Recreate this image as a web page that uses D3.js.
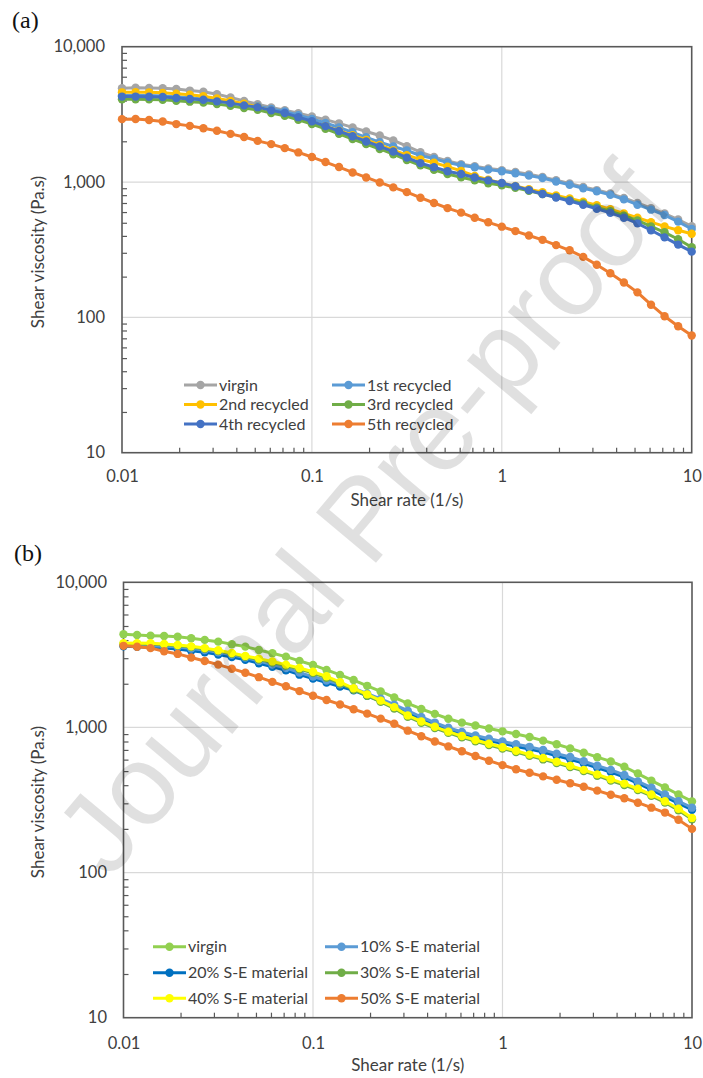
<!DOCTYPE html>
<html>
<head>
<meta charset="utf-8">
<script src="https://cdn.jsdelivr.net/npm/d3@7"></script>
<style>
  body { margin: 0; background: #fff; }
  svg { display: block; }
</style>
</head>
<body>
<svg id="fig" width="703" height="1078"></svg>
<script>
// Shear rate grid (1/s), shared by every curve in both panels
const shearRate = [
  0.01, 0.01179, 0.01389, 0.01638, 0.01931, 0.02276, 0.02683, 0.03162, 0.03728, 0.04394,
  0.05179, 0.06105, 0.07197, 0.08483, 0.1, 0.1179, 0.1389, 0.1638, 0.1931, 0.2276,
  0.2683, 0.3162, 0.3728, 0.4394, 0.5179, 0.6105, 0.7197, 0.8483, 1, 1.179,
  1.389, 1.638, 1.931, 2.276, 2.683, 3.162, 3.728, 4.394, 5.179, 6.105,
  7.197, 8.483, 10
];

// Axis ticks
const xTickValues = [0.01, 0.1, 1, 10];
const yTickValues = [10, 100, 1000, 10000];

// Panel (a): recycling passes, shear viscosity (Pa.s)
const namesA = ["virgin", "1st recycled", "2nd recycled", "3rd recycled", "4th recycled", "5th recycled"];
const viscVirginA = [4935, 4975, 4960, 4935, 4875, 4740, 4650, 4460, 4210, 3980, 3760, 3560, 3390, 3220, 3050, 2890, 2715, 2535, 2365, 2205, 2030, 1840, 1660, 1530, 1430, 1355, 1310, 1260, 1225, 1185, 1140, 1090, 1030, 975, 920, 872, 822, 762, 700, 642, 585, 528, 471];
const viscRec1A = [4350, 4360, 4350, 4320, 4260, 4190, 4120, 4020, 3900, 3760, 3630, 3470, 3320, 3120, 2930, 2730, 2530, 2330, 2140, 1970, 1830, 1710, 1570, 1490, 1395, 1330, 1285, 1235, 1200, 1160, 1115, 1070, 1010, 955, 900, 855, 805, 745, 680, 625, 570, 510, 450];
const viscRec2A = [4600, 4610, 4600, 4560, 4500, 4420, 4300, 4150, 3980, 3790, 3580, 3370, 3170, 2970, 2780, 2590, 2400, 2220, 2050, 1880, 1720, 1580, 1470, 1390, 1300, 1210, 1110, 1040, 980, 935, 885, 840, 795, 755, 715, 675, 630, 585, 545, 505, 470, 440, 415];
const viscRec3A = [4090, 4090, 4080, 4055, 3990, 3925, 3870, 3770, 3660, 3520, 3415, 3235, 3090, 2880, 2685, 2475, 2275, 2080, 1905, 1755, 1605, 1455, 1330, 1230, 1145, 1085, 1030, 980, 945, 905, 860, 815, 775, 735, 695, 650, 610, 565, 520, 470, 425, 378, 330];
const viscRec4A = [4280, 4280, 4270, 4245, 4180, 4110, 4050, 3945, 3830, 3685, 3575, 3385, 3235, 3015, 2810, 2590, 2380, 2180, 1995, 1835, 1680, 1515, 1380, 1288, 1201, 1146, 1081, 1029, 983, 930, 872, 815, 768, 724, 680, 635, 592, 545, 495, 440, 390, 345, 306];
const viscRec5A = [2915, 2920, 2870, 2800, 2680, 2600, 2500, 2390, 2270, 2150, 2015, 1905, 1780, 1655, 1530, 1405, 1290, 1177, 1081, 993, 913, 842, 766, 700, 642, 594, 544, 504, 468, 434, 403, 374, 342, 313, 280, 245, 212, 181, 153, 124, 102, 86, 73.5];

// Panel (b): blends with S-E material, shear viscosity (Pa.s)
const namesB = ["virgin", "10% S-E material", "20% S-E material", "30% S-E material", "40% S-E material", "50% S-E material"];
const viscVirginB = [4390, 4330, 4290, 4270, 4220, 4120, 4010, 3900, 3745, 3605, 3420, 3245, 3075, 2875, 2695, 2490, 2300, 2120, 1935, 1770, 1610, 1465, 1340, 1240, 1148, 1079, 1032, 984, 940, 902, 859, 811, 766, 717, 670, 624, 583, 536, 481, 430, 386, 345, 309];
const visc10B = [3690, 3660, 3650, 3630, 3590, 3500, 3410, 3300, 3165, 3030, 2870, 2710, 2570, 2385, 2240, 2105, 1980, 1865, 1710, 1575, 1435, 1305, 1180, 1080, 995, 930, 880, 835, 800, 765, 735, 700, 660, 625, 585, 545, 510, 470, 425, 385, 345, 310, 280];
const visc20B = [3620, 3590, 3560, 3520, 3470, 3380, 3290, 3180, 3050, 2920, 2770, 2620, 2480, 2310, 2170, 2035, 1910, 1800, 1650, 1520, 1385, 1265, 1140, 1045, 962, 900, 850, 808, 778, 740, 710, 676, 638, 604, 566, 527, 493, 455, 412, 372, 334, 300, 271];
const visc30B = [3760, 3770, 3760, 3720, 3660, 3580, 3480, 3360, 3220, 3070, 2940, 2800, 2660, 2520, 2370, 2200, 2010, 1820, 1655, 1500, 1350, 1185, 1078, 990, 917, 855, 803, 757, 715, 676, 637, 602, 568, 534, 500, 465, 431, 401, 370, 338, 304, 269, 233];
const visc40B = [3800, 3810, 3800, 3760, 3700, 3620, 3520, 3400, 3260, 3110, 2980, 2850, 2710, 2570, 2420, 2250, 2050, 1860, 1690, 1530, 1380, 1210, 1100, 1010, 935, 872, 820, 772, 730, 690, 650, 615, 580, 545, 510, 475, 440, 410, 378, 345, 310, 275, 238];
const visc50B = [3650, 3600, 3520, 3350, 3210, 3030, 2870, 2710, 2540, 2380, 2220, 2060, 1920, 1780, 1655, 1545, 1440, 1335, 1245, 1150, 1060, 950, 870, 800, 740, 685, 635, 590, 550, 515, 487, 460, 436, 412, 390, 367, 344, 325, 303, 280, 259, 231, 200];

// Series colours
const coloursA = ["#a5a5a5", "#5b9bd5", "#ffc000", "#70ad47", "#4472c4", "#ed7d31"];
const coloursB = ["#92d050", "#5b9bd5", "#0070c0", "#70ad47", "#ffff00", "#ed7d31"];

const FONT = "Lato, 'Open Sans', sans-serif";
const TEXT_COLOUR = "#404040";
const svg = d3.select("#fig");

function drawPanel(cfg) {
  const x = d3.scaleLog().domain([0.01, 10]).range([cfg.left, cfg.right]);
  const y = d3.scaleLog().domain([10, 10000]).range([cfg.bottom, cfg.top]);
  const g = svg.append("g");

  // major gridlines
  g.append("g").selectAll("line").data([0.1, 1]).join("line")
    .attr("x1", d => x(d)).attr("x2", d => x(d))
    .attr("y1", cfg.top).attr("y2", cfg.bottom)
    .attr("stroke", "#d9d9d9").attr("stroke-width", 1.2);
  g.append("g").selectAll("line").data([100, 1000]).join("line")
    .attr("x1", cfg.left).attr("x2", cfg.right)
    .attr("y1", d => y(d)).attr("y2", d => y(d))
    .attr("stroke", "#d9d9d9").attr("stroke-width", 1.2);

  // minor ticks pointing into the plot
  const minorX = [], minorY = [];
  [0.01, 0.1, 1].forEach(b => { for (let m = 2; m <= 9; m++) minorX.push(+(b * m).toPrecision(3)); });
  [10, 100, 1000].forEach(b => { for (let m = 2; m <= 9; m++) minorY.push(b * m); });

  const axX = g.append("g").attr("transform", `translate(0,${cfg.bottom})`)
    .call(d3.axisBottom(x).tickValues(minorX).tickSize(-5).tickFormat(""));
  axX.select(".domain").remove();
  axX.selectAll(".tick line").attr("stroke", "#595959").attr("stroke-width", 1.2);

  const axY = g.append("g").attr("transform", `translate(${cfg.left},0)`)
    .call(d3.axisLeft(y).tickValues(minorY).tickSize(-5).tickFormat(""));
  axY.select(".domain").remove();
  axY.selectAll(".tick line").attr("stroke", "#595959").attr("stroke-width", 1.2);

  // major tick labels
  const labX = g.append("g").attr("transform", `translate(0,${cfg.bottom})`)
    .call(d3.axisBottom(x).tickValues(xTickValues).tickSize(0).tickPadding(cfg.xPad).tickFormat(d3.format("~g")));
  labX.select(".domain").remove();
  labX.selectAll("text").attr("font-family", FONT).attr("font-size", 16.5).attr("fill", TEXT_COLOUR);

  const labY = g.append("g").attr("transform", `translate(${cfg.left},0)`)
    .call(d3.axisLeft(y).tickValues(yTickValues).tickSize(0).tickPadding(cfg.yPad).tickFormat(d3.format(",")));
  labY.select(".domain").remove();
  labY.selectAll("text").attr("font-family", FONT).attr("font-size", 16.5).attr("fill", TEXT_COLOUR);

  // plot frame
  g.append("rect")
    .attr("x", cfg.left).attr("y", cfg.top)
    .attr("width", cfg.right - cfg.left).attr("height", cfg.bottom - cfg.top)
    .attr("fill", "none").attr("stroke", "#595959").attr("stroke-width", 1.6);

  // curves: line then markers, series by series in the given stacking order
  const line = d3.line().x(d => x(d[0])).y(d => y(d[1]));
  cfg.order.forEach(i => {
    const vals = cfg.series[i];
    const pts = shearRate.map((r, k) => [r, vals[k]]);
    const sg = g.append("g");
    sg.append("path").datum(pts)
      .attr("d", line).attr("fill", "none")
      .attr("stroke", cfg.colours[i]).attr("stroke-width", 3).attr("stroke-linejoin", "round");
    sg.selectAll("circle").data(pts).join("circle")
      .attr("cx", d => x(d[0])).attr("cy", d => y(d[1])).attr("r", 4.2)
      .attr("fill", cfg.colours[i]);
  });

  // axis titles
  g.append("text")
    .attr("x", (cfg.left + cfg.right) / 2).attr("y", cfg.xTitleY)
    .attr("text-anchor", "middle").attr("font-family", FONT).attr("font-size", 17)
    .attr("fill", TEXT_COLOUR).text("Shear rate (1/s)");
  g.append("text")
    .attr("transform", `translate(${cfg.yTitleX},${cfg.yTitleY}) rotate(-90)`)
    .attr("text-anchor", "middle").attr("font-family", FONT).attr("font-size", 17)
    .attr("fill", TEXT_COLOUR).text("Shear viscosity (Pa.s)");

  // panel letter
  g.append("text")
    .attr("x", cfg.letterX).attr("y", cfg.letterY)
    .attr("font-family", "'Liberation Serif', 'Times New Roman', serif").attr("font-size", 24)
    .attr("fill", "#111").text(cfg.letter);

  // legend, two columns filled row by row
  const lg = cfg.legend;
  cfg.names.forEach((name, i) => {
    const col = i % 2, row = Math.floor(i / 2);
    const x0 = lg.colX[col], cy = lg.rowY[row];
    const item = g.append("g");
    item.append("line")
      .attr("x1", x0).attr("x2", x0 + lg.lineLen).attr("y1", cy).attr("y2", cy)
      .attr("stroke", cfg.colours[i]).attr("stroke-width", 3);
    item.append("circle")
      .attr("cx", x0 + lg.lineLen / 2).attr("cy", cy).attr("r", 4.2)
      .attr("fill", cfg.colours[i]);
    item.append("text")
      .attr("x", x0 + lg.lineLen + 2).attr("y", cy).attr("dy", "0.35em")
      .attr("font-family", FONT).attr("font-size", 16).attr("fill", TEXT_COLOUR)
      .text(name);
  });
}

drawPanel({
  letter: "(a)", letterX: 12, letterY: 28,
  left: 122, right: 691.7, top: 46.7, bottom: 452.7,
  xPad: 17.5, yPad: 17, xTitleY: 506, yTitleX: 44, yTitleY: 252,
  names: namesA, colours: coloursA, order: [0, 1, 2, 3, 4, 5],
  series: [viscVirginA, viscRec1A, viscRec2A, viscRec3A, viscRec4A, viscRec5A],
  legend: { colX: [184, 332], rowY: [385, 404.5, 424], lineLen: 33 }
});

drawPanel({
  letter: "(b)", letterX: 14, letterY: 561,
  left: 123.5, right: 692, top: 582.3, bottom: 1017.7,
  xPad: 19.5, yPad: 16.5, xTitleY: 1071, yTitleX: 44, yTitleY: 802,
  names: namesB, colours: coloursB, order: [0, 2, 1, 3, 4, 5],
  series: [viscVirginB, visc10B, visc20B, visc30B, visc40B, visc50B],
  legend: { colX: [153, 325], rowY: [946.7, 972.7, 998.3], lineLen: 33 }
});

// document watermark across the whole figure
svg.append("text")
  .attr("transform", "translate(362,518) rotate(-50)")
  .attr("text-anchor", "middle").attr("dominant-baseline", "central")
  .attr("font-family", "'Liberation Sans', Arial, sans-serif").attr("font-size", 114)
  .attr("fill", "#000").attr("fill-opacity", 0.12)
  .text("Journal Pre-proof");
</script>
</body>
</html>
